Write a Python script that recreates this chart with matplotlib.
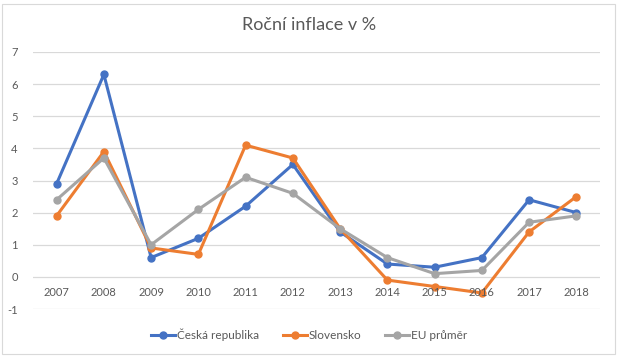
import matplotlib.pyplot as plt
from matplotlib.lines import Line2D
from matplotlib.patches import Rectangle

years = ["2007", "2008", "2009", "2010", "2011", "2012",
         "2013", "2014", "2015", "2016", "2017", "2018"]
cz = [2.9, 6.3, 0.6, 1.2, 2.2, 3.5, 1.4, 0.4, 0.3, 0.6, 2.4, 2.0]
sk = [1.9, 3.9, 0.9, 0.7, 4.1, 3.7, 1.5, -0.1, -0.3, -0.5, 1.4, 2.5]
eu = [2.4, 3.7, 1.0, 2.1, 3.1, 2.6, 1.5, 0.6, 0.1, 0.2, 1.7, 1.9]
series_names = ["Česká republika", "Slovensko", "EU průměr"]
y_ticks = [-1, 0, 1, 2, 3, 4, 5, 6, 7]

COLOURS = ["#4472C4", "#ED7D31", "#A5A5A5"]
TEXT = "#595959"
GRID = "#D9D9D9"

plt.rcParams['font.family'] = ['Lato', 'DejaVu Sans']

W, H = 619, 358
fig = plt.figure(figsize=(W / 100, H / 100), dpi=100)

# chart border like an Excel chart area
fig.patches.append(Rectangle((2 / W, 4 / H), 613 / W, 350 / H, transform=fig.transFigure,
                             fill=False, edgecolor=GRID, linewidth=0.8))

ax = fig.add_axes([33 / W, 1 - 309 / H, 567 / W, 257 / H])
x = list(range(len(years)))

for vals, col in zip([cz, sk, eu], COLOURS):
    ax.plot(x, vals, color=col, linewidth=2.2, marker='o', markersize=5, zorder=3)

ax.set_xlim(-0.5, len(years) - 0.5)
ax.set_ylim(-1, 7)
ax.set_yticks(y_ticks)
ax.set_yticklabels([str(t) for t in y_ticks], color=TEXT, fontsize=8)
ax.tick_params(axis='y', length=0, pad=11)
ax.set_xticks([])
for s in ax.spines.values():
    s.set_visible(False)
for t in y_ticks:
    ax.axhline(t, color=GRID, linewidth=0.9, zorder=1)

# category labels sit just under the zero line
for i, yr in zip(x, years):
    ax.text(i, -0.5, yr, ha='center', va='center', fontsize=8, color=TEXT)

fig.text(0.5, 1 - 25 / H, "Roční inflace v %", ha='center', va='center',
         fontsize=13, color=TEXT)

handles = [Line2D([], [], color=c, linewidth=2.2, marker='o', markersize=5) for c in COLOURS]
fig.legend(handles, series_names, loc='center', bbox_to_anchor=(0.5, 1 - 335 / H),
           ncol=3, frameon=False, fontsize=8.5, labelcolor=TEXT,
           handlelength=2.0, handletextpad=0.2, columnspacing=2.0)

fig.savefig("out.png", dpi=100)
